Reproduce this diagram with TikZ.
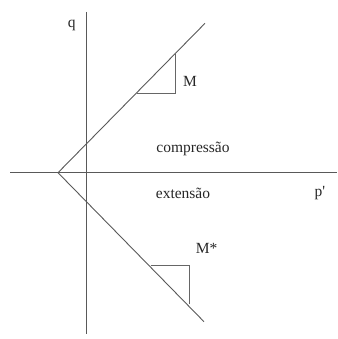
\documentclass[tikz,border=0pt]{standalone}
\usepackage{fontspec}
\setmainfont{Liberation Serif}
\begin{document}
\begin{tikzpicture}[x=1pt,y=-1pt,
  axis/.style={draw=black!65,line width=0.9pt},
  tri/.style={draw=black!60,line width=0.9pt},
  lbl/.style={font=\fontsize{15.5}{18}\selectfont,text=black!85,inner sep=0pt}]
\useasboundingbox (0,0) rectangle (337,339);
% axes
\coordinate (vt) at (86,12);
\coordinate (vb) at (86,334);
\coordinate (hl) at (10,172.7);
\coordinate (hr) at (337,172.7);
\draw[axis] (vt) -- (vb);
\draw[axis] (hl) -- (hr);
% envelope lines
\coordinate (apex) at (58,172.7);
\coordinate (up) at (205,23.3);
\coordinate (lo) at (204,321.7);
\draw[axis] (up) -- (apex) -- (lo);
% slope triangles
\coordinate (ua) at (136.7,93.3);
\coordinate (ub) at (175.7,93.3);
\coordinate (uc) at (175.7,54.3);
\draw[tri] (ua) -- (ub) -- (uc);
\coordinate (la) at (150.7,265);
\coordinate (lb) at (189,265);
\coordinate (lc) at (189,303.5);
\draw[tri] (la) -- (lb) -- (lc);
% labels
\node[lbl] (q) at (71.7,25) {q};
\node[lbl] (M) at (190,81) {M};
\node[lbl] (Ms) at (206.7,248.5) {M*};
\node[lbl] (comp) at (193,149) {compressão};
\node[lbl] (ext) at (183,193.3) {extensão};
\node[lbl] (p) at (320,193.3) {p\textquotesingle};
\end{tikzpicture}
\end{document}
